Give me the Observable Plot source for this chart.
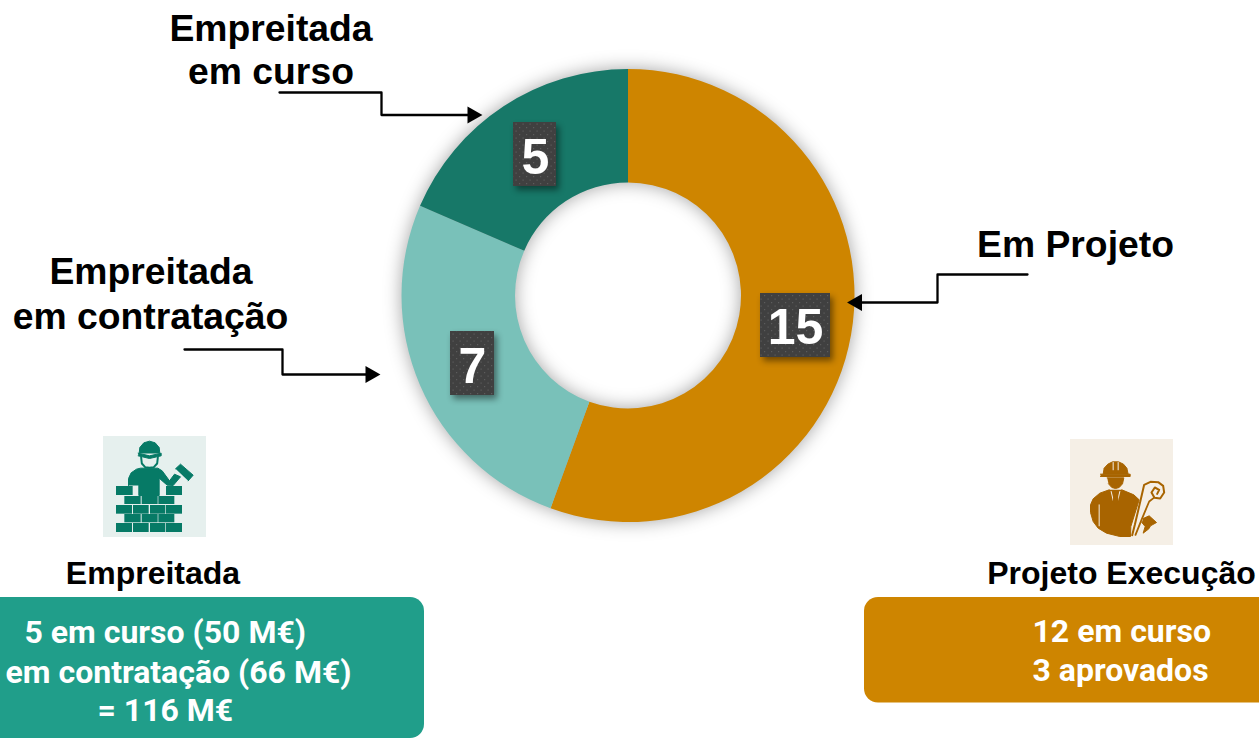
<!DOCTYPE html>
<html><head><meta charset="utf-8">
<style>html,body{margin:0;padding:0;background:#fff;overflow:hidden;width:1259px;height:738px}svg{display:block}</style>
<script src="https://cdn.jsdelivr.net/npm/d3@7"></script>
<script src="https://cdn.jsdelivr.net/npm/@observablehq/plot@0.6"></script>
</head><body><script>
// --- data ---
const categories = ["Em Projeto", "Empreitada em contratação", "Empreitada em curso"];
const values = [15, 7, 5];
const sliceColors = ["#CE8500", "#79C1B9", "#177868"];
const calloutLines = [["Empreitada","em curso"],["Empreitada","em contratação"],["Em Projeto"]];
const leftPanelLines = ["5 em curso (50 M€)", "em contratação (66 M€)", "= 116 M€"];
const rightPanelLines = ["12 em curso", "3 aprovados"];

// --- layout ---
const W = 1259, H = 738, cx = 628, cy = 295.5, R = 226.5, r = 113;
const bold = "Liberation Sans, Arial, sans-serif";
const pieData = d3.pie().sort(null).value(d => d)(values);

const donut = (index, {x, y}) => {
  const arc = d3.arc().innerRadius(x(r) - x(0)).outerRadius(x(R) - x(0));
  const g = d3.create("svg:g")
    .attr("transform", `translate(${x(cx)},${y(cy)})`)
    .style("filter", "drop-shadow(0 0 9px rgba(0,0,0,.36))");
  g.selectAll("path").data(pieData).join("path")
    .attr("d", arc).attr("fill", (d, i) => sliceColors[i])
    .append("title").text((d, i) => `${categories[i]}: ${values[i]}`);
  return g.node();
};
const defs = () => {
  const s = d3.create("svg:defs");
  const p = s.append("pattern").attr("id","dots").attr("width",7).attr("height",7).attr("patternUnits","userSpaceOnUse");
  p.append("rect").attr("width",7).attr("height",7).attr("fill","#404040");
  p.append("rect").attr("x",1).attr("y",1).attr("width",1.2).attr("height",1.2).attr("fill","#5c5c5c");
  p.append("rect").attr("x",4.5).attr("y",4.5).attr("width",1.2).attr("height",1.2).attr("fill","#5c5c5c");
  return s.node();
};

// value tags
const tags = [
  {v: values[0], x1: 760, x2: 830, y1: 293, y2: 357, tx: 795, ty: 343},
  {v: values[1], x1: 450, x2: 494, y1: 331, y2: 395, tx: 472, ty: 382},
  {v: values[2], x1: 513, x2: 556, y1: 122, y2: 186, tx: 535, ty: 173}
];
// callout leaders
const leaders = [
  {id: 0, pts: [[279,92],[381,92],[381,114.5],[470,114.5]], head: [472,114.5], rot: 90},
  {id: 1, pts: [[184,349],[282,349],[282,374],[368,374]], head: [370,374], rot: 90},
  {id: 2, pts: [[1027,274],[937,274],[937,302],[858,302]], head: [856.5,302], rot: -90}
];
const leaderPts = leaders.flatMap(l => l.pts.map(p => ({id: l.id, x: p[0], y: p[1]})));
const calloutText = [
  {t: calloutLines[0][0], x: 270.5, y: 40}, {t: calloutLines[0][1], x: 270.5, y: 83.5},
  {t: calloutLines[1][0], x: 150.5, y: 283}, {t: calloutLines[1][1], x: 150, y: 328},
  {t: calloutLines[2][0], x: 1075, y: 256}
];

// icon shapes (3x units relative to icon origin)
const bk = [100, 433], en = [1066, 436];
const teal = "#067A66", brown = "#A86400";
const brickRows = [
  [159,186,[[48,98],[198,246]]],
  [189,213,[[73,122],[125,173],[175,223]]],
  [216,242,[[48,96],[99,146],[150,196],[198,246]]],
  [243,268,[[73,122],[125,173],[175,223]]],
  [270,297,[[48,96],[99,146],[150,196],[198,246]]]
];
const bricks = brickRows.flatMap(([a,b,xs]) => xs.map(([p,q]) => ({x1:p,x2:q,y1:a,y2:b})));
const shape = (pts, o, color, extra = {}) => Plot.line(pts, {x: d => o[0] + d[0]/3, y: d => o[1] + d[1]/3, fill: color, stroke: color, strokeWidth: 1, ...extra});
const stroke = (pts, o, color, w, extra = {}) => Plot.line(pts, {x: d => o[0] + d[0]/3, y: d => o[1] + d[1]/3, stroke: color, strokeWidth: w, ...extra});

const bkHelmet = [[116,60],[118,42],[130,28],[147,23],[164,28],[176,42],[178,60]];
const bkBrim = [[113,59],[147,67],[182,59],[182,67],[147,75],[113,67]];
const bkFace = [[122,72],[124,90],[134,101],[147,103],[160,101],[170,90],[172,72]];
const bkBody = [[84,156],[84,135],[92,118],[108,107],[120,104],[172,104],[185,112],[207,142],[222,122],[240,130],[218,156],[200,155],[176,134],[176,186],[115,186],[115,156]];
const bkTrowel = [[225,106],[240,92],[278,125],[263,142]];
const enDome = [[110,113],[113,95],[124,83],[138,76],[156,76],[171,83],[181,95],[185,113]];
const enBrim = [[102,113],[191,113],[191,120],[102,120]];
const enFace = [[122,124],[172,124],[168,142],[158,153],[147,156],[136,153],[126,142]];
const enBody = [[128,160],[100,170],[80,187],[72,205],[72,228],[80,255],[95,275],[120,290],[160,300],[192,300],[193,270],[218,190],[202,175],[166,160]];
const enStripes = [[[140,78],[140,100]],[[155,78],[155,100]],[[98,205],[98,268]],[[134,165],[141,195]],[[160,165],[153,195]]];
const enTie = [[142,165],[152,165],[155,195],[147,205],[139,195]];
const enScroll = [[197,296],[205,265],[233,145],[252,136],[275,137],[290,148],[293,168],[281,186],[264,184],[255,168],[265,153],[278,160],[272,172]];
const enScroll2 = [[207,295],[225,250],[248,195],[262,184]];
const enPlug = [[230,246],[248,238],[270,258],[252,268],[247,277],[230,290],[236,270],[226,258]];

const plot = Plot.plot({
  width: W, height: H, margin: 0,
  x: {domain: [0, W], range: [0, W], axis: null},
  y: {domain: [0, H], range: [0, H], axis: null},
  style: {background: "transparent", overflow: "hidden"},
  marks: [
    defs,
    donut,
    // tags
    Plot.rect(tags, {x1: "x1", x2: "x2", y1: "y1", y2: "y2", fill: "url(#dots)", imageFilter: "drop-shadow(3px 4px 3px rgba(0,0,0,.45))"}),
    Plot.text(tags, {x: "tx", y: "ty", text: d => String(d.v), fill: "white", fontSize: 50, fontWeight: 700, fontFamily: bold, lineAnchor: "bottom"}),
    // callouts
    Plot.line(leaderPts, {x: "x", y: "y", z: "id", stroke: "black", strokeWidth: 2.3, curve: "linear"}),
    Plot.dot(leaders, {x: d => d.head[0], y: d => d.head[1], symbol: "triangle", r: 6.4, fill: "black", stroke: "none", rotate: "rot"}),
    Plot.text(calloutText, {x: "x", y: "y", text: "t", fontSize: 37.3, fontWeight: 700, fontFamily: bold, fill: "black", lineAnchor: "bottom"}),
    // panels
    Plot.rect([0], {x1: -30, x2: 424, y1: 597, y2: 738, rx: 14, fill: "#209E8A"}),
    Plot.rect([0], {x1: 864, x2: 1300, y1: 597, y2: 702.5, rx: 14, fill: "#CE8500"}),
    Plot.text(leftPanelLines, {x: [24, 5, 97], y: [642, 682, 720], text: d => d, textAnchor: "start", fontSize: 32, fontWeight: 700, fontFamily: "Roboto", fill: "white", lineAnchor: "bottom"}),
    Plot.text(rightPanelLines, {x: [1032, 1032], y: [641, 680], text: d => d, textAnchor: "start", fontSize: 32, fontWeight: 700, fontFamily: "Roboto", fill: "white", lineAnchor: "bottom"}),
    Plot.text(["Empreitada"], {x: [152.5], y: [583], text: d => d, fontSize: 32, fontWeight: 700, fontFamily: bold, fill: "black", lineAnchor: "bottom"}),
    Plot.text(["Projeto Execução"], {x: [1121], y: [583], text: d => d, fontSize: 32, fontWeight: 700, fontFamily: bold, fill: "black", lineAnchor: "bottom"}),
    // bricklayer icon
    Plot.rect([0], {x1: 103, x2: 206, y1: 436, y2: 537, fill: "#E6F0EE"}),
    Plot.rect(bricks, {x1: d => bk[0] + d.x1/3, x2: d => bk[0] + d.x2/3, y1: d => bk[1] + d.y1/3, y2: d => bk[1] + d.y2/3, fill: teal}),
    shape(bkHelmet, bk, teal), shape(bkBrim, bk, teal), shape(bkBody, bk, teal), shape(bkTrowel, bk, teal),
    stroke(bkFace, bk, teal, 2),
    // engineer icon
    Plot.rect([0], {x1: 1070, x2: 1173, y1: 439, y2: 545, fill: "#F5EFE6"}),
    shape(enDome, en, brown), shape(enBrim, en, brown), shape(enFace, en, brown), shape(enBody, en, brown), shape(enPlug, en, brown),
    ...enStripes.map(s => stroke(s, en, "#F5EFE6", 1)),
    shape(enTie, en, brown),
    stroke(enScroll, en, brown, 2), stroke(enScroll2, en, brown, 1.8)
  ]
});
document.body.appendChild(plot);
</script></body></html>
